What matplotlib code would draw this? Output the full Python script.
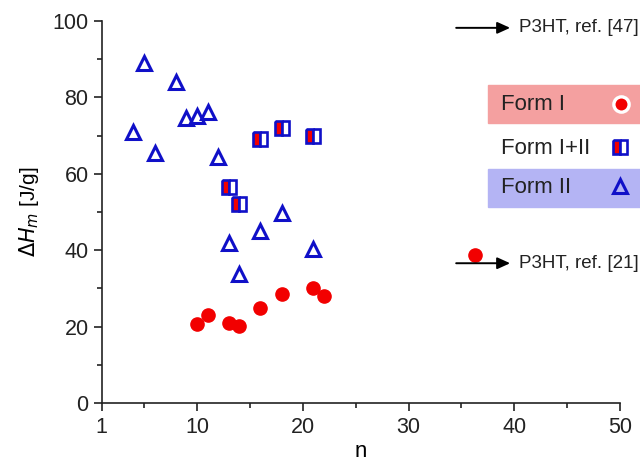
import matplotlib
matplotlib.use("Agg")
import matplotlib.pyplot as plt
from matplotlib.patches import Rectangle
from matplotlib.lines import Line2D

plt.rcParams['font.family'] = ['Liberation Sans', 'DejaVu Sans']

# Data
form1_n = [10, 11, 13, 14, 16, 18, 21, 22]
form1_h = [20.6, 23.0, 21.0, 20.2, 24.8, 28.5, 30.0, 28.0]

form12_n = [13, 14, 16, 18, 21]
form12_h = [56.6, 52.1, 69.1, 71.9, 70.0]

form2_n = [4, 5, 6, 8, 9, 10, 11, 12, 13, 14, 16, 18, 21]
form2_h = [71.0, 88.9, 65.5, 84.1, 74.7, 75.1, 76.3, 64.3, 41.8, 33.7, 45.0, 49.7, 40.3]

ref21_n = [36.3]
ref21_h = [38.7]

xticks = [1, 10, 20, 30, 40, 50]
yticks = [0, 20, 40, 60, 80, 100]

RED = '#f20000'
BLUE = '#1010c8'

fig = plt.figure(figsize=(6.4, 4.66), dpi=100)
ax = fig.add_axes([0.159, 0.135, 0.81, 0.82])

ax.plot(form1_n, form1_h, 'o', color=RED, ms=9.5, mec=RED, zorder=3)
ax.plot(ref21_n, ref21_h, 'o', color=RED, ms=9.5, mec=RED, zorder=3, clip_on=False)
ax.plot(form12_n, form12_h, 's', ms=10.5, mec=BLUE, mew=1.9, fillstyle='left',
        markerfacecolor=RED, markerfacecoloralt='white', zorder=3)
ax.plot(form2_n, form2_h, '^', ms=10.5, mec=BLUE, mfc='none', mew=2.2, zorder=3)

ax.set_xlim(1, 50)
ax.set_ylim(0, 100)
ax.set_xticks(xticks)
ax.set_yticks(yticks)
ax.set_xticks([5, 15, 25, 35, 45], minor=True)
ax.set_yticks([10, 30, 50, 70, 90], minor=True)
ax.tick_params(which='both', direction='out', labelsize=15.5, width=1.2, colors='#222222')
ax.tick_params(which='major', length=6)
ax.tick_params(which='minor', length=3.5)
ax.tick_params(axis='x', which='major', pad=4)
for s in ['top', 'right']:
    ax.spines[s].set_visible(False)
for s in ['left', 'bottom']:
    ax.spines[s].set_linewidth(1.2)
    ax.spines[s].set_color('#222222')

ax.set_xlabel('n', fontsize=16, labelpad=2)
ax.set_ylabel(r'$\Delta H_m$ [J/g]', fontsize=15, labelpad=8)

# Arrows with references
for yv, txt in [(98.2, 'P3HT, ref. [47]'), (36.6, 'P3HT, ref. [21]')]:
    ax.annotate('', xy=(39.6, yv), xytext=(34.5, yv),
                arrowprops=dict(arrowstyle='-|>,head_length=0.55,head_width=0.25',
                                color='black', lw=1.4,
                                mutation_scale=14, shrinkA=0, shrinkB=0),
                annotation_clip=False)
    ax.text(40.4, yv, txt, fontsize=13.5, va='center', ha='left', color='#222222',
            clip_on=False)

# Custom legend (figure pixel coords -> fraction)
W, H = 640, 466
def fx(px):
    return px / W
def fy(py):
    return 1 - py / H

fig.patches.append(Rectangle((fx(488), fy(123)), fx(152), 38 / H,
                             transform=fig.transFigure, color='#f4a0a0', zorder=0))
fig.patches.append(Rectangle((fx(488), fy(207)), fx(152), 38 / H,
                             transform=fig.transFigure, color='#b4b4f4', zorder=0))
labels = [('Form I', 105), ('Form I+II', 148), ('Form II', 188)]
for t, py in labels:
    fig.text(fx(501), fy(py), t, fontsize=16, va='center', ha='left', color='#222222')

fig.add_artist(Line2D([fx(621)], [fy(104)], marker='o', ms=11, color=RED, mec='white',
                      mew=2.4, transform=fig.transFigure))
fig.add_artist(Line2D([fx(620)], [fy(147)], marker='s', ms=10.5, mec=BLUE, mew=1.9,
                      fillstyle='left', markerfacecolor=RED, markerfacecoloralt='white',
                      transform=fig.transFigure))
fig.add_artist(Line2D([fx(620)], [fy(186)], marker='^', ms=10.5, mec=BLUE, mfc='none',
                      mew=2.2, transform=fig.transFigure))

fig.savefig('out.png', dpi=100)
